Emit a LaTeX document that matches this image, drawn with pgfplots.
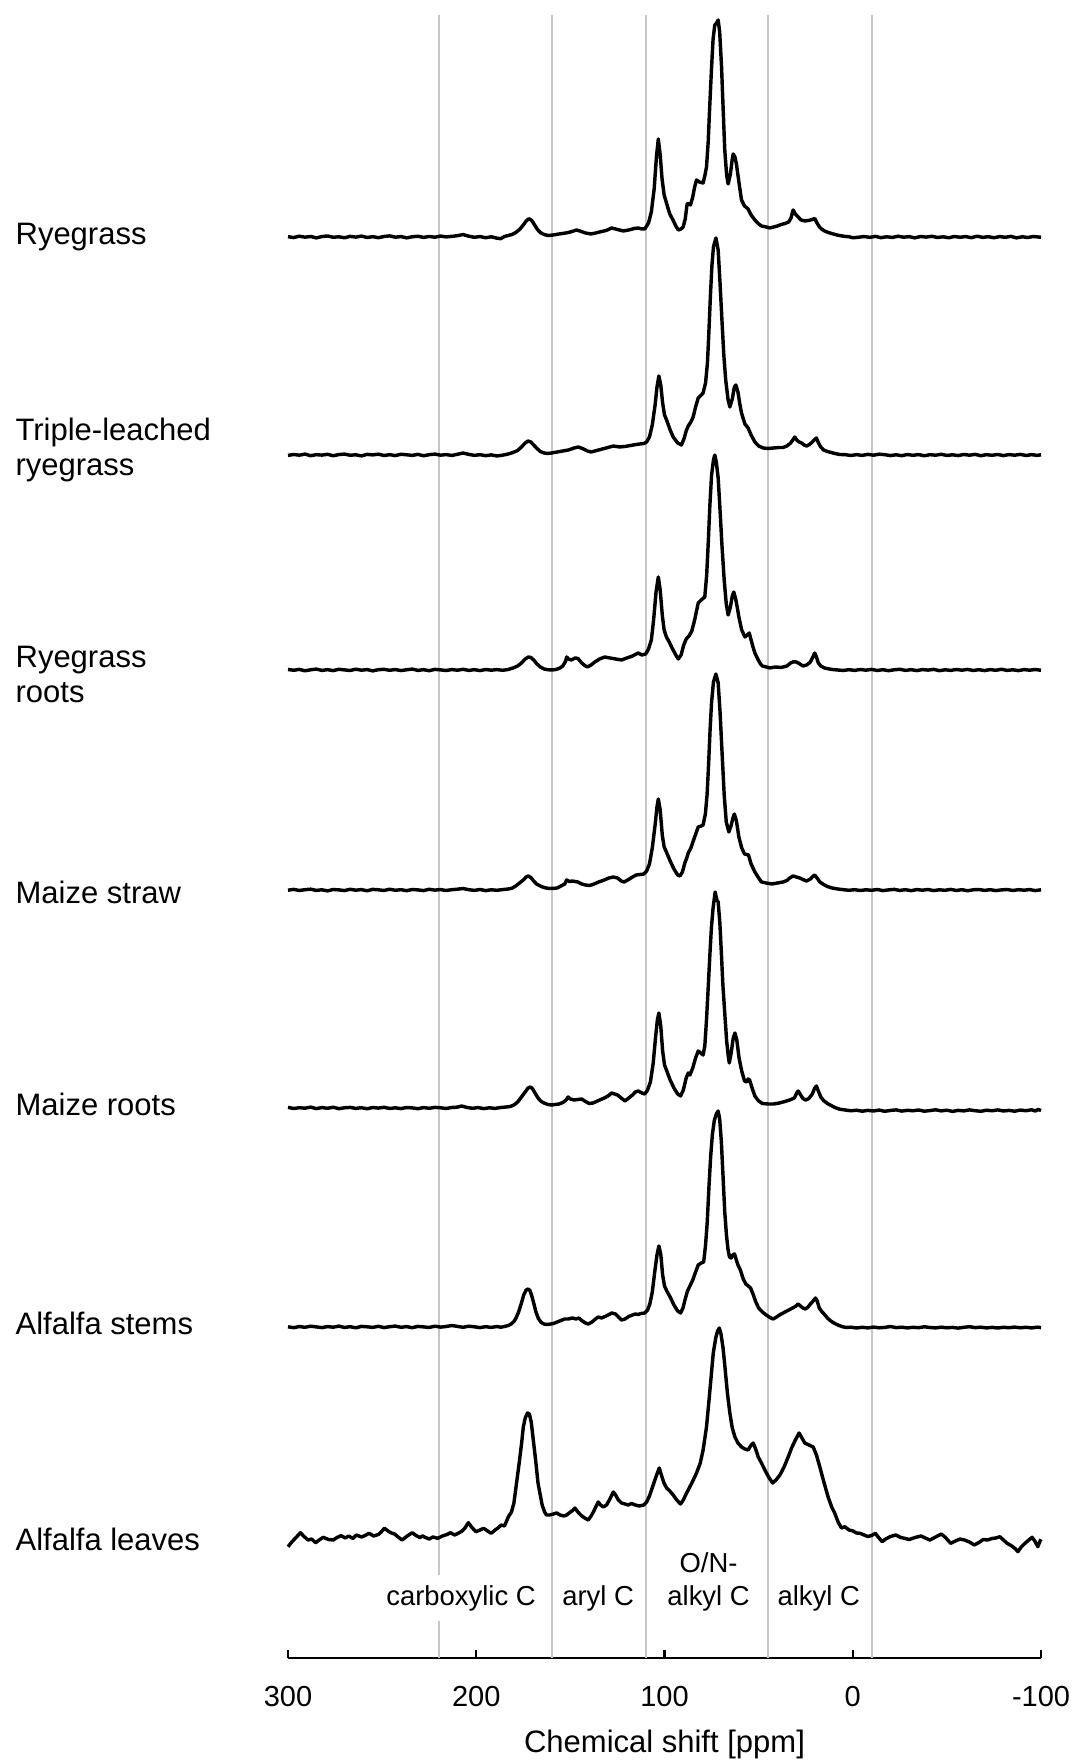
\documentclass[border=0pt]{standalone}
\usepackage{fontspec}
\setmainfont{Liberation Sans}
\usepackage{pgfplots}
\pgfplotsset{compat=1.18}
\pgfplotsset{spec/.style={black, line width=1.2pt, line join=round, mark=none, solid}}
\begin{document}
\begin{tikzpicture}
\begin{axis}[
  scale only axis, width=263.55pt, height=575.05pt,
  xmin=-100, xmax=300, ymin=0, ymax=1643, x dir=reverse,
  axis x line*=bottom, axis y line=none,
  xtick={300,200,100,0,-100}, xticklabels={300,200,100,0,-100},
  ytick=\empty,
  tick align=inside, major tick length=2.8pt,
  every tick/.style={black, line width=0.8pt},
  axis line style={black, line width=0.8pt},
  xticklabel style={font=\fontsize{10.15}{12}\selectfont, inner xsep=0pt, yshift=-6.5pt},
  extra x ticks={220,160,110,45,-10},
  extra x tick labels={},
  extra x tick style={grid=major, major tick length=0pt},
  major grid style={gray!45, line width=0.7pt},
  clip=false,
]
% Ryegrass
\addplot[spec] table[row sep=\\, y expr=\thisrow{h}+1421] {x h\\
300 0.3\\ 297 -0.6\\ 294 0.8\\ 291 -0.2\\ 288 0.5\\ 285 -0.9\\ 282 0.4\\ 279 1.0\\ 276 -0.3\\ 273 0.2\\ 270 -0.8\\ 267 0.6\\ 264 -0.1\\ 261 0.9\\ 258 -0.5\\ 255 0.3\\ 252 -0.7\\ 249 0.5\\ 246 1.1\\ 243 -0.2\\ 240 0.4\\ 237 -0.9\\ 234 0.2\\ 231 0.7\\ 228 -0.4\\ 225 0.5\\ 222 -0.2\\ 219 0.9\\ 216 0.1\\ 213 0.6\\ 210 1.3\\ 207 2.4\\ 204 0.8\\ 201 -0.3\\ 198 0.4\\ 195 -0.8\\ 192 0.2\\ 189 -1.2\\ 187 -1.7\\ 185 0.5\\
183 1.5\\ 181 2.5\\ 179 4.5\\ 177 7.5\\ 175 12\\ 173.5 16\\ 172 18.3\\ 170.5 16.5\\ 169 12\\ 167.5 7.5\\ 166 4.5\\ 164 2.5\\ 162 1.5\\ 160.5 1.7\\ 158.5 2.2\\ 156 3\\ 153 3.8\\ 150 5\\ 148 6.2\\ 146.7 7\\ 145 6\\ 142 4\\ 139 3\\ 137 3.8\\ 134 5.2\\ 131 6.5\\ 128.1 9\\ 125 7.5\\ 121.9 6\\ 119 7\\ 116 8.5\\ 114 9\\ 112 8\\ 110.4 8.2\\
108.5 14\\ 107 25\\ 105.5 48\\ 104.3 80\\ 103.3 98\\ 102.3 82\\ 101.3 58\\ 100.2 42\\ 98.5 31\\ 97.2 23\\ 95.5 17\\ 94 11\\ 92.7 7\\ 91.2 8\\ 90.1 10\\ 89 18\\ 88 33\\ 87 33.5\\ 86.2 32\\ 85 40\\ 84 50\\ 83 57\\ 81.5 55\\ 79.5 54\\ 78.5 62\\ 77.7 70\\ 76.8 95\\ 76 130\\ 75 170\\ 74.2 198\\ 73.3 212\\ 72.3 214\\ 71.5 217\\ 70.7 205\\ 69.7 170\\ 69 135\\ 68 87\\ 67 62\\ 66.2 53\\ 65 63\\ 64 78\\ 63.5 83\\ 62.6 80\\ 61.8 73\\ 60.5 55\\ 59.1 37\\ 57.5 31\\ 55.6 28\\ 54 22\\ 52 17\\ 50 13\\ 48.5 11\\ 46 10\\ 44.1 9\\
42 10\\ 40 11\\ 38 12.5\\ 36 13.5\\ 34 15\\ 32.8 19\\ 31.7 27\\ 30.5 23\\ 29 20\\ 27.5 17\\ 25.5 16\\ 23.5 16.5\\ 21.5 17.5\\ 20.2 18.5\\ 19 14\\ 17.7 10\\ 16.6 8\\ 15 6\\ 13 4.5\\ 10.4 3\\ 8 1.8\\ 5 0.8\\ 2 0.2\\
0 -0.8\\ -3 -0.3\\ -6 0.5\\ -9 -0.4\\ -12 0.6\\ -15 -0.7\\ -18 0.2\\ -21 -0.5\\ -24 0.8\\ -27 -0.2\\ -30 0.3\\ -33 -0.9\\ -36 0.5\\ -39 -0.1\\ -42 0.7\\ -45 -0.5\\ -48 0.2\\ -51 -0.8\\ -54 0.5\\ -57 -0.3\\ -60 0.4\\ -63 -0.7\\ -66 0.8\\ -69 -0.4\\ -72 0.3\\ -75 -0.8\\ -78 0.4\\ -81 -0.3\\ -84 0.6\\ -87 -0.9\\ -90 0.2\\ -93 -0.5\\ -96 0.5\\ -100 -0.3\\
};
% Triple-leached ryegrass
\addplot[spec] table[row sep=\\, y expr=\thisrow{h}+1203] {x h\\
300 -0.4\\ 297 0.5\\ 294 -0.2\\ 291 0.9\\ 288 -0.7\\ 285 0.3\\ 282 -0.1\\ 279 0.7\\ 276 -0.8\\ 273 0.4\\ 270 0.9\\ 267 -0.3\\ 264 0.2\\ 261 -0.9\\ 258 0.6\\ 255 0.1\\ 252 0.8\\ 249 -0.5\\ 246 0.3\\ 243 -0.6\\ 240 0.7\\ 237 0.2\\ 234 -0.4\\ 231 0.6\\ 228 -0.8\\ 225 0.3\\ 222 0.9\\ 219 -0.2\\ 216 0.4\\ 213 -0.5\\ 210 0.7\\ 207 2\\ 204 0.6\\ 201 -0.4\\ 198 0.3\\ 195 -0.7\\ 192 0.1\\ 189 -1\\ 186 -0.2\\
183 1\\ 180.5 2.5\\ 178 4.5\\ 176 8\\ 174 12\\ 172.5 14\\ 171 13\\ 169.5 10\\ 168 7\\ 166 3.5\\ 164 2\\ 162 1.5\\ 160 2\\ 157 3\\ 154 4\\ 151 5\\ 148 7\\ 145.8 8\\ 143 6\\ 141 4\\ 139 3\\ 136 4.5\\ 133 6\\ 130 7.5\\ 127.2 9\\ 124 8\\ 121 8.5\\ 118 9.5\\ 115 10.5\\ 113 11\\ 111 11.5\\
109.5 13\\ 108 18\\ 106.5 30\\ 105 50\\ 104 68\\ 103 79\\ 102 70\\ 101 52\\ 100 40\\ 98.9 35\\ 97 25\\ 95.4 18\\ 93 12\\ 91 10\\ 89.5 17\\ 88.5 24\\ 87.4 29\\ 86 33\\ 84.8 38\\ 83.5 48\\ 82.1 57\\ 80.5 60\\ 79.5 62\\ 78.2 72\\ 77.2 92\\ 76.5 120\\ 75.6 160\\ 74.8 190\\ 74 208\\ 72.7 217\\ 71.5 205\\ 70.6 175\\ 69.5 135\\ 68.5 100\\ 67.5 75\\ 66.3 56\\ 65.3 48\\ 64 56\\ 62.9 68\\ 62.1 70\\ 61 63\\ 60 51\\ 59.1 42\\ 57.3 31\\ 55.6 27\\ 54 20\\ 52 13\\ 50 9\\ 47.6 7\\ 45 6.5\\
42 7\\ 39 7.5\\ 37 7.5\\ 35 9\\ 33 12\\ 31.5 16\\ 30.8 18\\ 29.8 15\\ 28.5 13\\ 27.2 12\\ 25.8 10\\ 24.6 9\\ 23 10.5\\ 21.5 13\\ 20.2 15.5\\ 19.3 17\\ 18.2 12\\ 17 8\\ 15.5 5\\ 13.5 3.5\\ 11.5 2.5\\ 9.5 1.5\\ 7 0.5\\ 4 0.3\\
1 -0.5\\ -2 0.3\\ -5 -0.4\\ -8 0.6\\ -11 -0.2\\ -14 0.8\\ -17 0.3\\ -20 -0.6\\ -23 0.2\\ -26 -0.7\\ -29 0.5\\ -32 -0.3\\ -35 0.4\\ -38 -0.8\\ -41 0.3\\ -44 -0.2\\ -47 0.7\\ -50 -0.5\\ -53 0.2\\ -56 -0.6\\ -59 0.5\\ -62 -0.2\\ -65 0.6\\ -68 -0.7\\ -71 0.3\\ -74 -0.3\\ -77 0.5\\ -80 -0.6\\ -83 0.4\\ -86 -0.2\\ -89 0.6\\ -92 -0.5\\ -95 0.3\\ -98 -0.4\\ -100 0.2\\
};
% Ryegrass roots
\addplot[spec] table[row sep=\\, y expr=\thisrow{h}+988] {x h\\
300 0.5\\ 297 -0.3\\ 294 0.6\\ 291 -0.8\\ 288 0.2\\ 285 0.9\\ 282 -0.4\\ 279 0.3\\ 276 -0.6\\ 273 0.7\\ 270 0.1\\ 267 -0.5\\ 264 0.8\\ 261 -0.2\\ 258 0.4\\ 255 -0.9\\ 252 0.3\\ 249 0.7\\ 246 -0.3\\ 243 0.5\\ 240 -0.6\\ 237 0.2\\ 234 0.9\\ 231 -0.4\\ 228 0.3\\ 225 -0.7\\ 222 0.6\\ 219 0.1\\ 216 -0.5\\ 213 0.4\\ 210 -0.2\\ 207 0.7\\ 204 -0.4\\ 201 0.3\\ 198 -0.6\\ 195 0.5\\ 192 -0.2\\ 189 0.4\\ 186 -0.3\\
183 0.5\\ 180.5 2\\ 178 4\\ 176 7\\ 174 11\\ 172.3 13\\ 171 12.5\\ 169.5 10\\ 168 6.5\\ 166 3\\ 164 1\\ 162 0.3\\ 160 0\\ 158 0.4\\ 156 1.5\\ 154 4\\ 152.5 9\\ 152 13\\ 151 11\\ 149.5 10\\ 147.5 12\\ 146 11.5\\ 144 7\\ 142 4\\ 141 3\\ 139 5\\ 137 8\\ 134.5 11\\ 131.7 13\\ 129 12\\ 126 11\\ 122.8 10\\ 120 12\\ 117 14\\ 115 16\\ 114 17\\ 112 15\\ 110 16\\
108.5 21\\ 107 30\\ 105.8 50\\ 104.5 78\\ 103.3 93\\ 102.3 80\\ 101.2 55\\ 100.2 40\\ 99 33\\ 97.5 28\\ 96 22\\ 94 15\\ 92.7 11\\ 91.2 15\\ 89.8 25\\ 88.5 31\\ 87 34\\ 85.5 39\\ 84 50\\ 82.1 67\\ 80.5 70\\ 78.6 73\\ 77.6 95\\ 76.7 130\\ 75.9 165\\ 75 195\\ 74 210\\ 73.3 215\\ 72.5 208\\ 71.5 192\\ 70.6 163\\ 69.5 125\\ 68.3 90\\ 67.2 66\\ 66.2 55\\ 65 63\\ 64 74\\ 63.2 78\\ 62.2 71\\ 61.3 62\\ 60.5 53\\ 59 40\\ 57.3 33\\ 56 35\\ 55 37\\ 54 30\\ 53 23\\ 52 17\\ 50.5 11\\ 49 6\\ 48 4\\ 46 3\\
44 2\\ 41 3\\ 38 2.5\\ 35 4\\ 33 7\\ 31.5 8.2\\ 30 8\\ 28.5 6.5\\ 26.4 4\\ 24.5 5\\ 22.5 8\\ 21.2 13\\ 20.2 17\\ 19.3 13\\ 18.3 7\\ 17 4\\ 15 2\\ 13 1.2\\ 11 0.5\\ 8 0\\ 5 -0.5\\ 2 0.3\\
-1 -0.4\\ -4 0.5\\ -7 -0.2\\ -10 0.6\\ -13 -0.5\\ -16 0.3\\ -19 -0.7\\ -22 0.2\\ -25 0.7\\ -28 -0.4\\ -31 0.3\\ -34 -0.6\\ -37 0.4\\ -40 -0.1\\ -43 0.6\\ -46 -0.7\\ -49 0.2\\ -52 -0.4\\ -55 0.5\\ -58 -0.2\\ -61 0.6\\ -64 -0.5\\ -67 0.3\\ -70 -0.6\\ -73 0.4\\ -76 -0.3\\ -79 0.7\\ -82 -0.4\\ -85 0.2\\ -88 -0.6\\ -91 0.4\\ -94 -0.2\\ -97 0.5\\ -100 -0.3\\
};
% Maize straw
\addplot[spec] table[row sep=\\, y expr=\thisrow{h}+768] {x h\\
300 -0.2\\ 297 0.6\\ 294 -0.5\\ 291 0.3\\ 288 0.8\\ 285 -0.4\\ 282 0.2\\ 279 -0.9\\ 276 0.5\\ 273 0.1\\ 270 -0.6\\ 267 0.7\\ 264 -0.2\\ 261 0.4\\ 258 -0.8\\ 255 0.6\\ 252 0.2\\ 249 -0.5\\ 246 0.8\\ 243 -0.3\\ 240 0.3\\ 237 -0.7\\ 234 0.5\\ 231 0.1\\ 228 -0.6\\ 225 0.7\\ 222 -0.1\\ 219 0.4\\ 216 -0.5\\ 213 0.3\\ 210 0.8\\ 207 1.5\\ 204 0.3\\ 201 -0.4\\ 198 0.5\\ 195 -0.6\\ 192 0.2\\ 189 -0.3\\ 186 0.4\\
183 1\\ 181 1.8\\ 179 4\\ 177 7\\ 175 10\\ 173.5 13\\ 172.4 14\\ 171 12.5\\ 169.5 9\\ 168 6\\ 166 4\\ 164.5 2.8\\ 163 2\\ 161 1.5\\ 159 1.6\\ 157 2\\ 155 4\\ 153 6\\ 152 10\\ 150.5 8.5\\ 149 9\\ 147.5 8.5\\ 146 8\\ 144 6\\ 142 5\\ 140 4.5\\ 138 5.5\\ 135 8\\ 132 10\\ 129.5 12\\ 127.2 13\\ 125 12\\ 123 9\\ 121.5 8\\ 119.5 10\\ 117 13\\ 115 15\\ 113 15.5\\ 111 16\\
109.5 19\\ 108 26\\ 106.5 42\\ 105 65\\ 104 83\\ 103.3 91\\ 102.3 80\\ 101.2 55\\ 100.2 43\\ 99 38\\ 97 29\\ 95 21\\ 93 15\\ 91.8 14\\ 90.5 18\\ 89.2 27\\ 88 33\\ 87.4 37\\ 86 42\\ 84 53\\ 82.1 63\\ 80.5 64\\ 79.5 65\\ 78.3 76\\ 77.4 95\\ 76.6 125\\ 75.8 160\\ 75 188\\ 74 208\\ 72.7 216\\ 71.5 207\\ 70.5 178\\ 69.5 140\\ 68.3 95\\ 67.2 68\\ 65.8 58\\ 64.7 64\\ 63.5 73\\ 62.9 76\\ 61.8 69\\ 60.5 53\\ 59 42\\ 57.5 36\\ 56.3 35.5\\ 55.4 35\\ 54 26\\ 52 18\\ 50 12\\ 48.5 8\\ 46 7\\
43 6\\ 40 7\\ 37 8\\ 35 9.5\\ 33.5 12\\ 31.7 14\\ 30 13\\ 28.2 12\\ 26.5 10.5\\ 24.6 9\\ 22.5 11\\ 21 14\\ 20.2 15\\ 19 12\\ 17.5 8\\ 15.5 5.5\\ 13.5 3.5\\ 11 2\\ 8 1\\ 5 0.3\\ 2 -0.3\\
-1 0.3\\ -4 -0.5\\ -7 0.2\\ -10 -0.3\\ -13 0.5\\ -16 -0.6\\ -19 0.1\\ -22 0.6\\ -25 -0.4\\ -28 0.3\\ -31 -0.7\\ -34 0.4\\ -37 -0.2\\ -40 0.5\\ -43 -0.6\\ -46 0.2\\ -49 -0.3\\ -52 0.6\\ -55 -0.5\\ -58 0.3\\ -61 -0.8\\ -64 0.2\\ -67 0.5\\ -70 -0.4\\ -73 0.3\\ -76 -0.6\\ -79 0.1\\ -82 0.5\\ -85 -0.5\\ -88 0.3\\ -91 -0.2\\ -94 0.4\\ -97 -0.6\\ -100 0.2\\
};
% Maize roots
\addplot[spec] table[row sep=\\, y expr=\thisrow{h}+550] {x h\\
300 0.6\\ 297 -0.5\\ 294 0.3\\ 291 -0.2\\ 288 0.9\\ 285 -0.6\\ 282 0.4\\ 279 -0.3\\ 276 0.8\\ 273 -0.7\\ 270 0.2\\ 267 0.6\\ 264 -0.4\\ 261 0.3\\ 258 -0.8\\ 255 0.5\\ 252 -0.1\\ 249 0.7\\ 246 -0.5\\ 243 0.2\\ 240 -0.6\\ 237 0.5\\ 234 0.1\\ 231 -0.7\\ 228 0.4\\ 225 -0.3\\ 222 0.6\\ 219 0.2\\ 216 -0.5\\ 213 0.5\\ 210 0.9\\ 207.8 2\\ 205 0.6\\ 202 -0.3\\ 199 0.4\\ 196 -0.6\\ 193 0.2\\ 190 -0.4\\ 187 0.5\\
184 1\\ 182 1.5\\ 180 3\\ 178 6\\ 176 11\\ 174 16\\ 172.5 20\\ 171.2 21\\ 170 19\\ 168.5 14\\ 167 9.5\\ 165.5 6.5\\ 164 5\\ 162 3.5\\ 160 3\\ 158 3.5\\ 156 4\\ 154 5.5\\ 152.3 8\\ 151.2 11\\ 150 9\\ 148 8\\ 146 8.5\\ 144 9\\ 142 6.5\\ 140 4.5\\ 138 5\\ 135 7.5\\ 132 10\\ 130 12\\ 128.1 15\\ 126.5 14\\ 125 13\\ 123 10\\ 121 7\\ 119 10\\ 117 13\\ 115.5 16\\ 114 17\\ 112 15\\ 110.5 14\\
109 18\\ 107.5 26\\ 106 45\\ 104.8 70\\ 103.8 88\\ 103 95\\ 102 82\\ 101 57\\ 100 43\\ 98.8 37\\ 97 28\\ 95 20\\ 93 14\\ 91.5 12\\ 90 18\\ 88.5 30\\ 87.4 35\\ 86.5 33\\ 85 40\\ 83.5 50\\ 82.1 57\\ 80.8 55\\ 79.5 53\\ 78.6 62\\ 77.7 88\\ 76.8 120\\ 76 150\\ 75.1 180\\ 74.2 200\\ 73.1 216\\ 72.2 208\\ 71.5 206\\ 70.6 185\\ 69.8 155\\ 69 123\\ 68 95\\ 67 67\\ 66.2 53\\ 65.6 45\\ 64.6 55\\ 63.5 70\\ 62.6 75\\ 61.6 68\\ 60.4 50\\ 59 37\\ 57.5 27\\ 56.3 26\\ 55.6 29\\ 54.8 28\\ 53.5 20\\ 52 12\\ 50 7\\ 48 4.5\\
45 4\\ 42 4\\ 39 5\\ 36 6.5\\ 33.5 8\\ 31 10\\ 29.8 15\\ 29 17\\ 28 14\\ 26.5 9.5\\ 25 8\\ 23.3 9.5\\ 21.5 14\\ 20.2 20\\ 19.3 22\\ 18.3 17\\ 17 11\\ 15.5 7.5\\ 13.5 4.5\\ 11.5 2.5\\ 9.5 0.5\\ 7 -1.2\\ 4 -2\\ 1 -2.8\\
-2 -2.2\\ -5 -3.2\\ -8 -2.4\\ -11 -3\\ -14 -2.1\\ -17 -3.3\\ -20 -2.5\\ -23 -1.9\\ -26 -3.1\\ -29 -2.3\\ -32 -2.8\\ -35 -2\\ -38 -3.2\\ -41 -2.6\\ -44 -1.8\\ -47 -2.9\\ -50 -2.2\\ -53 -3.4\\ -56 -2.4\\ -59 -2.9\\ -62 -1.9\\ -65 -2.7\\ -68 -3.3\\ -71 -2.2\\ -74 -2.8\\ -77 -1.9\\ -80 -3\\ -83 -2.4\\ -86 -3.2\\ -89 -2.1\\ -92 -2.7\\ -95 -1.8\\ -97 -3\\ -98.5 -1.5\\ -100 -2.5\\
};
% Alfalfa stems
\addplot[spec] table[row sep=\\, y expr=\thisrow{h}+331] {x h\\
300 0.2\\ 297 -0.7\\ 294 0.5\\ 291 -0.3\\ 288 0.8\\ 285 0.1\\ 282 -0.6\\ 279 0.4\\ 276 -0.2\\ 273 0.9\\ 270 -0.5\\ 267 0.3\\ 264 -0.8\\ 261 0.6\\ 258 0.2\\ 255 -0.4\\ 252 0.7\\ 249 -0.6\\ 246 0.3\\ 243 0.9\\ 240 -0.3\\ 237 0.4\\ 234 -0.7\\ 231 0.6\\ 228 0.1\\ 225 -0.5\\ 222 0.8\\ 219 -0.1\\ 216 0.5\\ 213 1.5\\ 210 0.6\\ 207 -0.3\\ 204 0.8\\ 201 0.2\\ 198 -0.6\\ 195 0.3\\ 192 -0.4\\ 189 0.5\\ 187 -0.2\\
185 0.5\\ 183 1.5\\ 181.5 3\\ 180 5.5\\ 179 8.5\\ 177.5 15\\ 176 24\\ 174.8 32\\ 173.5 37\\ 172.4 38\\ 171.5 36.5\\ 170.5 31\\ 169.5 24\\ 168.3 15\\ 167 8.5\\ 165.5 4.5\\ 164 3\\ 162.5 2.5\\ 161 2.8\\ 159 3.5\\ 157 5\\ 155 6.5\\ 153 8\\ 151 8\\ 149 9\\ 147 8\\ 145.5 9\\ 144 6.5\\ 142 4\\ 140.5 3\\ 138.5 5\\ 137 7.5\\ 135.2 10\\ 133.5 9\\ 131.5 10.5\\ 129.5 12.5\\ 128 14\\ 126 13\\ 124.5 10\\ 122.8 7\\ 121 8\\ 119 10.5\\ 117 12\\ 115.5 13\\ 114 12.5\\ 112.5 13.5\\ 110.5 14\\
109 17\\ 107.8 23\\ 106.5 35\\ 105.2 55\\ 104 72\\ 103 81\\ 102 73\\ 101 52\\ 100 41\\ 98.8 36\\ 97 30\\ 95 22\\ 93 16\\ 91.5 14\\ 90.2 19\\ 89 28\\ 87.8 36\\ 86.5 41\\ 85 47\\ 83.5 55\\ 82.1 62\\ 80.5 64\\ 79.2 65\\ 78.2 82\\ 77.3 105\\ 76.4 140\\ 75.5 170\\ 74.6 192\\ 73.6 206\\ 72.5 213\\ 71.5 216\\ 70.7 208\\ 69.8 185\\ 68.9 150\\ 68 115\\ 67.1 92\\ 66.3 78\\ 65.5 70\\ 64.6 69\\ 63.8 72\\ 62.8 73\\ 62 68\\ 61 62\\ 59.7 57\\ 58.2 48\\ 56.8 43\\ 55.5 41\\ 54.3 39\\ 53 33\\ 51.5 25\\ 50 19\\ 48 15\\ 46 12\\ 44 9.5\\
42.3 8\\ 40.5 10\\ 38.5 12.5\\ 36.5 14.5\\ 34.5 16.5\\ 32.5 18.5\\ 30.5 20.5\\ 29 23\\ 27.8 21\\ 26.5 19\\ 25.2 18\\ 24 19.5\\ 22.5 23\\ 21 26\\ 19.8 29\\ 18.9 26\\ 17.8 19\\ 16.5 15.5\\ 15 12.5\\ 13.5 9\\ 12 6.5\\ 10.5 4.5\\ 9 3\\ 7.3 1.5\\ 5.5 0.3\\ 3.5 -0.5\\ 1 -0.2\\
-2 -1\\ -5 -0.3\\ -8 -0.9\\ -11 -0.1\\ -14 -0.8\\ -17 -0.4\\ -20 0.5\\ -23 -0.6\\ -26 -0.2\\ -29 -0.9\\ -32 -0.3\\ -35 -0.7\\ -38 0.2\\ -41 -0.5\\ -44 -0.9\\ -47 -0.2\\ -50 -0.8\\ -53 -0.4\\ -56 -1.1\\ -59 -0.3\\ -62 0.3\\ -65 -0.6\\ -68 -0.2\\ -71 -0.9\\ -74 -0.4\\ -77 -1.0\\ -80 -0.3\\ -83 -0.7\\ -86 -0.1\\ -89 -0.8\\ -92 -0.3\\ -95 -0.9\\ -98 -0.2\\ -100 -0.6\\
};
% Alfalfa leaves
\addplot[spec] table[row sep=\\, y expr=\thisrow{h}+120] {x h\\
300 -8.7\\ 298 -4\\ 296 0\\ 293.4 5.3\\ 291.5 1.5\\ 289.4 -2\\ 287.5 -1\\ 285.3 -4.7\\ 283.5 -2\\ 281.3 0.7\\ 278.5 -1.5\\ 275.9 -2\\ 274 0.5\\ 271.8 2.3\\ 269.5 0\\ 267.8 2\\ 265.5 -0.5\\ 263.7 3\\ 261 1\\ 259 2.5\\ 257 4.7\\ 254.5 2\\ 252 3.5\\ 250.5 6\\ 248.8 9.7\\ 246.5 6.5\\ 245 5\\ 243.4 4\\ 241.5 1\\ 239.4 -2\\ 237 1.5\\ 235.5 3.5\\ 234 5.3\\ 232 2.5\\ 230 0.5\\ 228.5 2\\ 227.2 0.7\\ 225 -1\\ 223 1\\ 220.5 -0.3\\ 218 2\\ 215.5 3.5\\ 213.7 5.3\\ 211.5 3\\ 209.6 4.7\\ 207.5 7\\ 206 10\\ 204.2 15.3\\ 202.5 11\\ 200.2 6.3\\ 198 8\\ 196.1 9.7\\ 194 7\\ 192.1 4.7\\ 190 8\\ 188.5 10\\ 186.7 13\\ 185 12\\
183 21\\ 181.3 26\\ 180 35\\ 178.6 55\\ 177.2 75\\ 175.9 95\\ 175 111\\ 174 120\\ 172.8 125\\ 171.8 124\\ 170.8 116\\ 169.7 98\\ 168.3 75\\ 167.2 55\\ 166.2 45\\ 165 33\\ 163.7 26\\ 162.7 23\\ 161 23\\ 159 24\\ 157.3 25\\ 155.5 23\\ 153.5 22\\ 152 23\\ 150 26\\ 148.5 28\\ 147.6 30\\ 146 26\\ 144.5 23\\ 143.2 21\\ 141.5 19\\ 140.5 18\\ 139 22\\ 137.5 27\\ 136.3 32\\ 135.2 36\\ 134 33\\ 132.5 31\\ 130.8 33\\ 129 39\\ 127.2 46\\ 126 43\\ 124.5 38\\ 122.8 35\\ 121 34\\ 119.3 33\\ 117.5 34.5\\ 115.5 33\\ 113.5 32\\ 111 33\\
109.5 36\\ 108 42\\ 106.9 48\\ 105.3 57\\ 104 64\\ 102.8 70\\ 101.5 62\\ 100.3 55\\ 98.9 50\\ 97.2 47\\ 95.4 43\\ 93.5 38\\ 91.5 34\\ 90 38\\ 88.8 43\\ 87.4 48\\ 85.5 55\\ 83 65\\ 81 75\\ 79.5 88\\ 77.7 111\\ 76.5 135\\ 75.3 160\\ 74.1 185\\ 72.8 200\\ 71.8 207\\ 70.9 210\\ 70 204\\ 68.9 190\\ 67.9 171\\ 66.6 145\\ 65.3 125\\ 64 110\\ 62.6 101\\ 61 95\\ 59.1 91\\ 57.3 89\\ 55.6 88\\ 54.3 92\\ 52.9 95\\ 51.6 89\\ 50.2 81\\ 48.5 75\\ 46.7 68\\ 44.7 61\\ 42.6 55\\
40.8 58\\ 38.7 63\\ 36.5 71\\ 34.3 81\\ 32.5 90\\ 30.5 98\\ 28.5 105\\ 27 100\\ 25.5 95\\ 23.3 93\\ 21 91\\ 19.3 83\\ 17.5 71\\ 15.5 57\\ 13.1 41\\ 11.2 31\\ 9.6 25\\ 7.8 16\\ 6 10\\ 4.2 11.3\\ 2 8\\ -0.2 7\\ -2 5\\ -3.9 4.7\\ -6 3\\ -8 1.5\\ -10 2.5\\ -12 4.7\\ -13.5 1\\ -15.6 -3.7\\ -17.5 -1\\ -20 1.5\\ -22.8 3\\ -25.5 0.5\\ -27.5 -0.3\\ -30 -1.5\\ -33 0.5\\ -36.3 2\\ -38.5 0\\ -41 -2\\ -44 1\\ -47.1 4\\ -49.5 0\\ -52 -5.3\\ -54.5 -3\\ -57 -1\\ -59.3 -2\\ -62 -4\\ -64.5 -7\\ -67 -4.5\\ -69.3 -1.5\\ -71.5 -2\\ -74 -0.5\\ -76 0\\ -78.2 1.3\\ -80 -2\\ -82 -5.3\\ -84.5 -8\\ -86.5 -11\\ -87.7 -13.7\\ -89.5 -9\\ -91.5 -5.3\\ -93.5 -2\\ -95.3 0.7\\ -97 -4\\ -98.3 -8.7\\ -99.5 -3\\ -100 -1.3\\
};
% sample labels
\begin{scope}[every node/.style={anchor=west, inner sep=0pt, align=left, font=\fontsize{10.85}{12.25}\selectfont}]
\node at (axis cs:445,1421) {Ryegrass};
\node at (axis cs:445,1208) {Triple-leached\\ryegrass};
\node at (axis cs:445,983) {Ryegrass\\roots};
\node at (axis cs:445,766) {Maize straw};
\node at (axis cs:445,554) {Maize roots};
\node at (axis cs:445,335) {Alfalfa stems};
\node at (axis cs:445,119) {Alfalfa leaves};
\end{scope}
% region labels
\begin{scope}[every node/.style={fill=white, inner xsep=2pt, inner ysep=3.7pt, align=center, font=\fontsize{9.6}{11.6}\selectfont}]
\node at (axis cs:208.1,60) {carboxylic C};
\node at (axis cs:135.3,60) {aryl C};
\node at (axis cs:76.6,76) {O/N-\\alkyl C};
\node at (axis cs:18.1,60) {alkyl C};
\end{scope}
\node[inner sep=0pt, font=\fontsize{10.85}{13}\selectfont] at (axis cs:100,-86) {Chemical shift [ppm]};
\path (axis cs:453,-106) rectangle (axis cs:-117.5,1658);
\end{axis}
\end{tikzpicture}
\end{document}
